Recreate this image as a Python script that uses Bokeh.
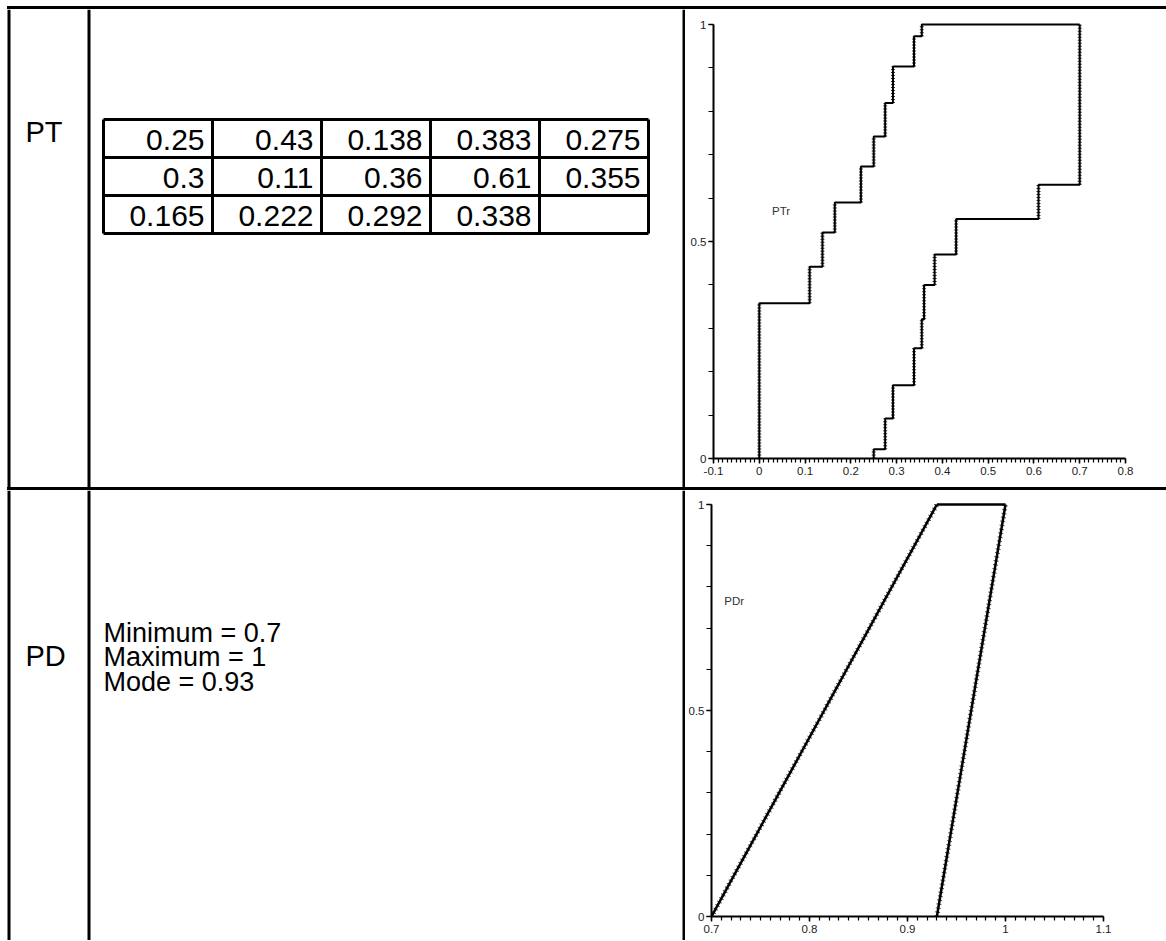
from bokeh.plotting import figure
from bokeh.layouts import column, row
from bokeh.models import Range1d, FixedTicker, CustomJSTickFormatter, Div
from bokeh.core.properties import value
from bokeh.embed import file_html
from bokeh.resources import INLINE

# ---------------- data ----------------
row_labels = ["PT", "PD"]
pt_values = [0.25, 0.43, 0.138, 0.383, 0.275,
             0.3, 0.11, 0.36, 0.61, 0.355,
             0.165, 0.222, 0.292, 0.338]
pd_lines = ["Minimum = 0.7", "Maximum = 1", "Mode = 0.93"]
pd_min, pd_max, pd_mode = 0.7, 1.0, 0.93

# PTr p-box bounds (step locations and cumulative probabilities)
ptr_left_x = [0.0, 0.11, 0.138, 0.165, 0.222, 0.25, 0.275, 0.292, 0.338, 0.355]
ptr_left_p = [0.358, 0.442, 0.521, 0.590, 0.673, 0.742, 0.819, 0.903, 0.973, 1.0]
ptr_right_x = [0.25, 0.275, 0.292, 0.338, 0.355, 0.36, 0.383, 0.43, 0.61, 0.7]
ptr_right_p = [0.0215, 0.092, 0.169, 0.254, 0.321, 0.400, 0.470, 0.552, 0.631, 1.0]

# PDr p-box bounds
pdr_left_x = [pd_min, pd_mode, pd_max]
pdr_left_p = [0.0, 1.0, 1.0]
pdr_right_x = [pd_mode, pd_max]
pdr_right_p = [0.0, 1.0]

pt_xticks = [-0.1, 0, 0.1, 0.2, 0.3, 0.4, 0.5, 0.6, 0.7, 0.8]
pd_xticks = [0.7, 0.8, 0.9, 1, 1.1]
yticks = [0, 0.5, 1]

FONT = "Liberation Sans"
W = 1166
LEFT_W = 685
PLOT_W = W - LEFT_W


def staircase(xs, ps, x_end):
    px, py = [xs[0]], [0.0]
    for i, (x, p) in enumerate(zip(xs, ps)):
        px.append(x)
        py.append(p)
        nxt = xs[i + 1] if i + 1 < len(xs) else x_end
        px.append(nxt)
        py.append(p)
    return px, py


def hline_div(top_gap):
    return Div(text="", width=W - 7, height=3, margin=(top_gap, 0, 0, 7),
               styles={"background-color": "black"})


def left_fig(height, y_top, y_bot):
    f = figure(width=LEFT_W, height=height, x_range=Range1d(0, LEFT_W),
               y_range=Range1d(y_bot, y_top), x_axis_type=None, y_axis_type=None,
               toolbar_location=None, output_backend="svg", min_border=0,
               outline_line_color=None, frame_align=False)
    f.segment(x0=[8.5, 88.5, 683.5], y0=[y_top] * 3, x1=[8.5, 88.5, 683.5],
              y1=[y_bot] * 3, line_color="black", line_width=3)
    return f


def pbox_fig(height, xr, mb_left, frame_w, mb_top, frame_h, xticks, label, label_xy):
    extra = 3.0
    p = figure(width=PLOT_W, height=height, x_range=Range1d(*xr),
               y_range=Range1d(0, 1 + extra / frame_h), toolbar_location=None,
               output_backend="svg", min_border_left=mb_left,
               min_border_right=PLOT_W - mb_left - frame_w,
               min_border_top=int(mb_top - extra),
               min_border_bottom=int(height - mb_top - frame_h),
               outline_line_color=None, frame_align=False)
    p.grid.visible = False
    n = int(round((xticks[-1] - xticks[0]) / 0.01))
    xminor = [round(xticks[0] + 0.01 * i, 3) for i in range(n + 1)]
    p.xaxis.ticker = FixedTicker(ticks=xticks, minor_ticks=xminor)
    p.yaxis.ticker = FixedTicker(ticks=yticks, minor_ticks=[round(0.1 * i, 2) for i in range(11)])
    fmt = "return String(Math.round(tick*1000)/1000);"
    for ax in (p.xaxis[0], p.yaxis[0]):
        ax.formatter = CustomJSTickFormatter(code=fmt)
        ax.axis_line_width = 2
        ax.axis_line_color = "black"
        ax.major_tick_line_color = "black"
        ax.minor_tick_line_color = "black"
        ax.major_tick_line_width = 1.5
        ax.minor_tick_line_width = 1.2
        ax.major_tick_in = 0
        ax.minor_tick_in = 0
        ax.major_label_text_font = FONT
        ax.major_label_text_font_size = "11.5px"
        ax.major_label_text_color = "#222222"
    p.xaxis.major_tick_out = 5
    p.xaxis.minor_tick_out = 4
    p.xaxis.major_label_standoff = 3
    p.yaxis.major_tick_out = 5
    p.yaxis.minor_tick_out = 5
    p.yaxis.major_label_standoff = 2
    p.yaxis.bounds = (0, 1)
    p.text(x=[label_xy[0]], y=[label_xy[1]], text=[label], text_font=value(FONT),
           text_font_size="11.5px", text_color="#333333", text_baseline="middle")
    return p


def add_bound(p, xs, ps, x_end):
    px, py = staircase(xs, ps, x_end)
    p.line(px, py, line_color="black", line_width=2)
    prev = [0.0] + list(ps[:-1])
    p.segment(x0=xs, y0=prev, x1=xs, y1=ps, line_color="black",
              line_width=4, line_dash="1 2", line_alpha=0.8)


def add_diag(p, xs, ps):
    p.line(xs, ps, line_color="black", line_width=2.5)
    p.line(xs, ps, line_color="black", line_width=5, line_dash="1 3", line_alpha=0.7)


# ---------------- row 1 : PT ----------------
top_y, bot_y = 9, 487
L1 = left_fig(bot_y - top_y, top_y, bot_y)
L1.text(x=[25], y=[131], text=[row_labels[0]], text_font=value(FONT),
        text_font_size="29px", text_baseline="middle", text_align="left")

tbl_left, tbl_top, cell_w, cell_h, ncol = 103, 119, 109, 38, 5
nrow = (len(pt_values) + ncol - 1) // ncol
tbl_right = tbl_left + ncol * cell_w
tbl_bot = tbl_top + nrow * cell_h
L1.segment(x0=[tbl_left] * (nrow + 1), x1=[tbl_right] * (nrow + 1),
           y0=[tbl_top + r * cell_h for r in range(nrow + 1)],
           y1=[tbl_top + r * cell_h for r in range(nrow + 1)],
           line_color="black", line_width=3)
L1.segment(x0=[tbl_left + c * cell_w for c in range(ncol + 1)],
           x1=[tbl_left + c * cell_w for c in range(ncol + 1)],
           y0=[tbl_top] * (ncol + 1), y1=[tbl_bot] * (ncol + 1),
           line_color="black", line_width=3)
tx = [tbl_left + (i % ncol + 1) * cell_w - 8 for i in range(len(pt_values))]
ty = [tbl_top + (i // ncol + 0.5) * cell_h + 1 for i in range(len(pt_values))]
L1.text(x=tx, y=ty, text=[str(v) for v in pt_values], text_font=value(FONT),
        text_font_size="30px", text_baseline="middle", text_align="right")

P1 = pbox_fig(bot_y - top_y, (-0.1, 0.8), 28, 412, 15, 434, pt_xticks, "PTr", (0.028, 0.57))
add_bound(P1, ptr_left_x, ptr_left_p, ptr_right_x[-1])
add_bound(P1, ptr_right_x, ptr_right_p, ptr_right_x[-1])

# ---------------- row 2 : PD ----------------
top2, bot2 = 490, 940
L2 = left_fig(bot2 - top2, top2, bot2)
L2.text(x=[25], y=[655], text=[row_labels[1]], text_font=value(FONT),
        text_font_size="29px", text_baseline="middle", text_align="left")
L2.text(x=[103] * len(pd_lines), y=[632 + 24.5 * i for i in range(len(pd_lines))],
        text=pd_lines, text_font=value(FONT), text_font_size="27px",
        text_baseline="middle", text_align="left")

P2 = pbox_fig(bot2 - top2, (0.7, 1.1), 26, 392, 14, 412, pd_xticks, "PDr", (0.713, 0.765))
add_diag(P2, pdr_left_x[:2], pdr_left_p[:2])
P2.line(pdr_left_x[1:], pdr_left_p[1:], line_color="black", line_width=2.5)
add_diag(P2, pdr_right_x, pdr_right_p)

layout = column(hline_div(6), row(L1, P1), hline_div(0), row(L2, P2))
open("out.html", "w").write(file_html(layout, INLINE))
